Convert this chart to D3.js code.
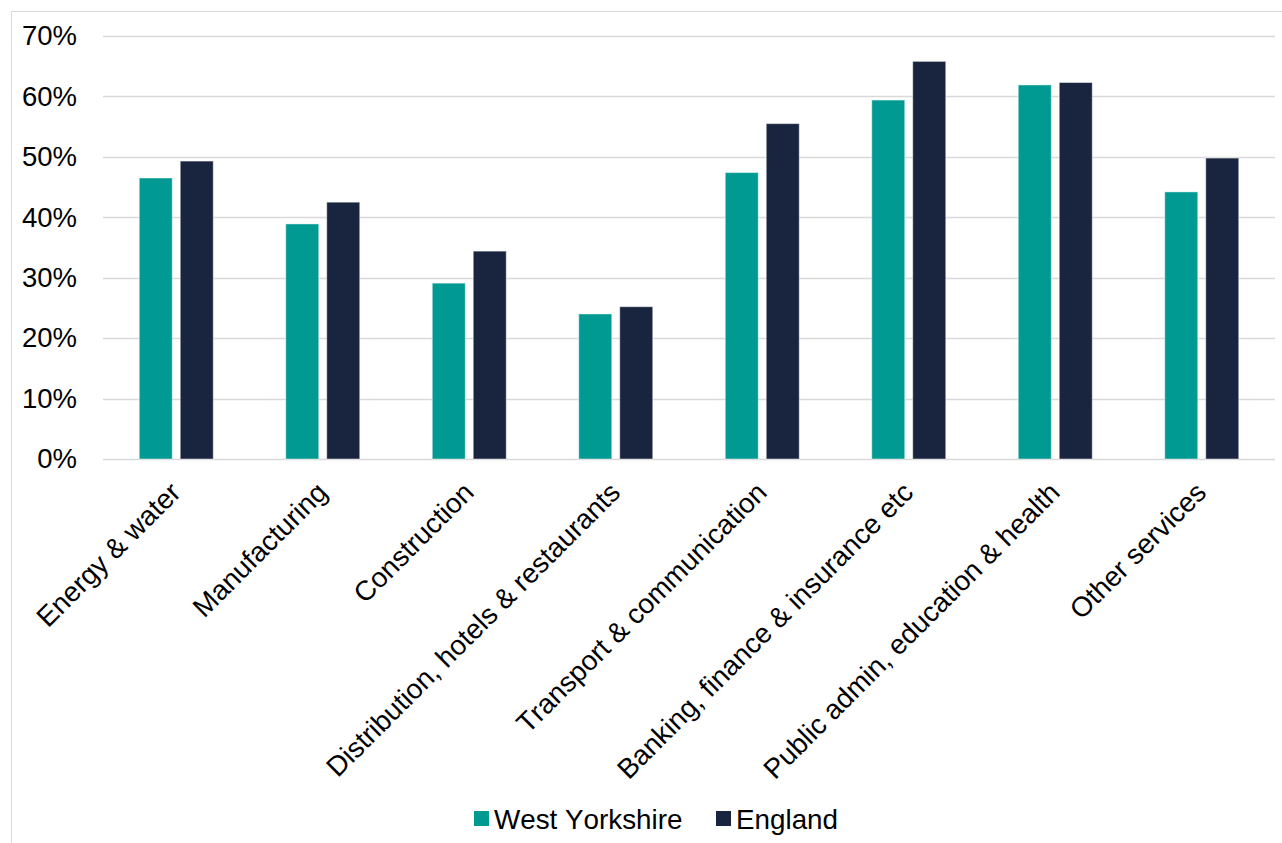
<!DOCTYPE html>
<html>
<head>
<meta charset="utf-8">
<script src="https://cdn.jsdelivr.net/npm/d3@7"></script>
<style>
  html, body { margin: 0; padding: 0; background: #fff; }
  svg { display: block; font-family: "Liberation Sans", Arial, sans-serif; font-kerning: none; }
</style>
</head>
<body>
<svg id="chart" width="1282" height="843"></svg>
<script>
// Share of workers by industry: West Yorkshire vs England
const categories = [
  "Energy & water",
  "Manufacturing",
  "Construction",
  "Distribution, hotels & restaurants",
  "Transport & communication",
  "Banking, finance & insurance etc",
  "Public admin, education & health",
  "Other services"
];
const seriesNames = ["West Yorkshire", "England"];
const westYorkshire = [46.5, 38.9, 29.1, 24.0, 47.4, 59.4, 61.9, 44.2];
const england = [49.3, 42.5, 34.4, 25.2, 55.5, 65.8, 62.3, 49.8];
const yTicks = [0, 10, 20, 30, 40, 50, 60, 70];
const colors = ["#009a93", "#19253f"];

const W = 1282, H = 843;
const margin = { top: 36, right: 7, bottom: 384, left: 103 };
const svg = d3.select("#chart");

// Chart frame
svg.append("rect")
  .attr("x", 11.5).attr("y", 11.5)
  .attr("width", W).attr("height", H)
  .attr("fill", "none").attr("stroke", "#d9d9d9").attr("stroke-width", 1);

const x = d3.scaleBand()
  .domain(categories)
  .range([margin.left, W - margin.right])
  .paddingInner(0.495)
  .paddingOuter(0.2475);

const xInner = d3.scaleBand()
  .domain(seriesNames)
  .range([0, x.bandwidth()])
  .paddingInner(0.195);

const y = d3.scaleLinear()
  .domain([0, 70])
  .range([H - margin.bottom, margin.top]);

// Gridlines
svg.append("g")
  .selectAll("line")
  .data(yTicks)
  .join("line")
  .attr("x1", margin.left).attr("x2", W - margin.right)
  .attr("y1", d => Math.round(y(d)) + 0.5).attr("y2", d => Math.round(y(d)) + 0.5)
  .attr("stroke", "#d9d9d9").attr("stroke-width", 1.3);

// Y axis labels
const yAxis = d3.axisLeft(y).tickValues(yTicks).tickFormat(d => d + "%").tickSize(0).tickPadding(0);
const yg = svg.append("g").attr("transform", "translate(77,0)").call(yAxis);
yg.select(".domain").remove();
yg.selectAll("text")
  .attr("font-size", "27.5px")
  .attr("fill", "#000")
  .attr("font-family", "'Liberation Sans', Arial, sans-serif");

// Bars
const rows = categories.map((c, i) => ({ cat: c, values: [westYorkshire[i], england[i]] }));
const groups = svg.append("g")
  .selectAll("g")
  .data(rows)
  .join("g")
  .attr("transform", d => `translate(${x(d.cat)},0)`);

groups.selectAll("rect")
  .data(d => d.values.map((v, j) => ({ v, s: seriesNames[j], j })))
  .join("rect")
  .attr("x", d => xInner(d.s))
  .attr("width", xInner.bandwidth())
  .attr("y", d => y(d.v))
  .attr("height", d => y(0) - y(d.v))
  .attr("fill", d => colors[d.j])
  .attr("stroke", "#ffffff")
  .attr("stroke-opacity", 0.45)
  .attr("stroke-width", 1);

// Category labels, rotated
svg.append("g")
  .selectAll("text")
  .data(categories)
  .join("text")
  .attr("transform", d => `translate(${x(d) + x.bandwidth() / 2 - 8},${y(0) + 21}) rotate(-45)`)
  .attr("text-anchor", "end")
  .attr("dy", "0.72em")
  .attr("font-size", "27.8px")
  .attr("fill", "#000")
  .text(d => d);

// Legend
const legendItems = [
  { name: seriesNames[0], color: colors[0], x: 474 },
  { name: seriesNames[1], color: colors[1], x: 716 }
];
const lg = svg.append("g")
  .selectAll("g")
  .data(legendItems)
  .join("g")
  .attr("transform", d => `translate(${d.x},811)`);
lg.append("rect")
  .attr("width", 15).attr("height", 15)
  .attr("fill", d => d.color);
lg.append("text")
  .attr("x", 20).attr("y", 18)
  .attr("font-size", "27.8px")
  .attr("fill", "#000")
  .text(d => d.name);
</script>
</body>
</html>
